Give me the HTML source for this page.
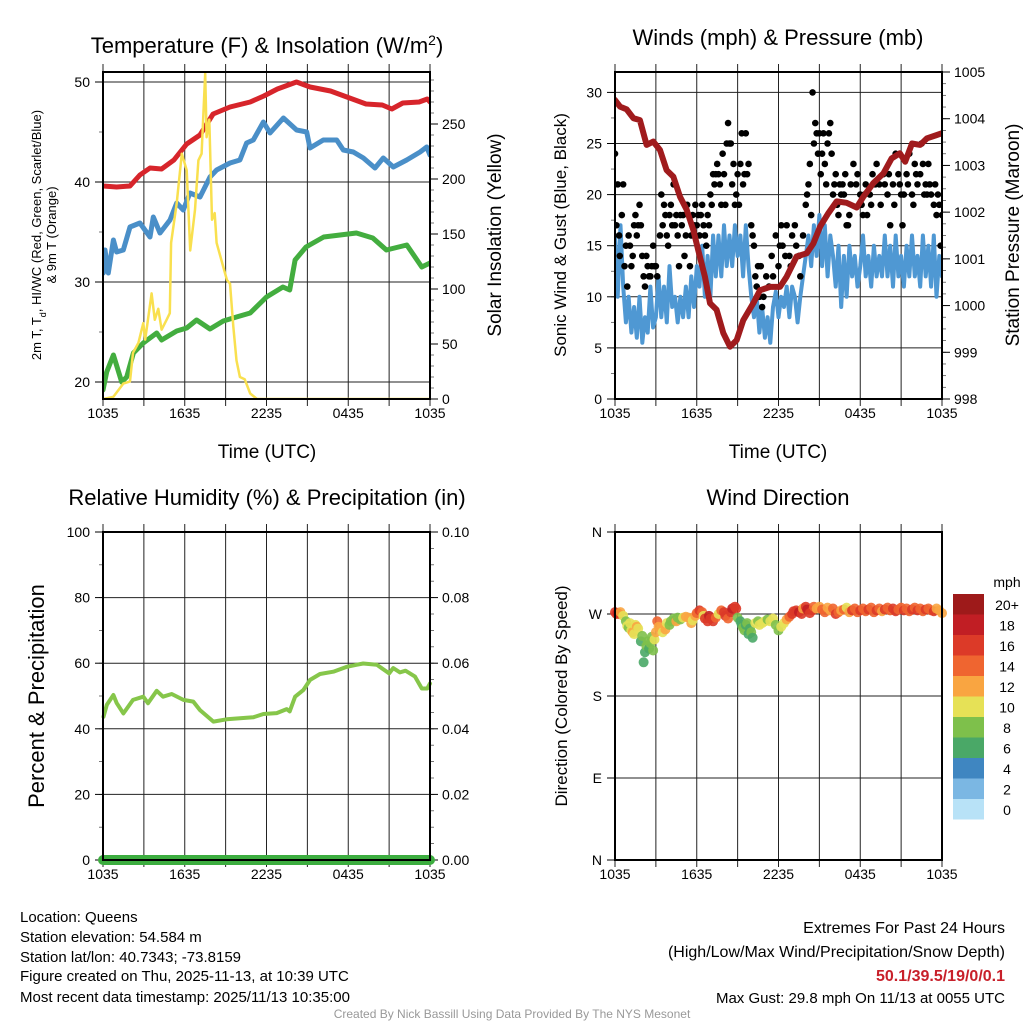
<!DOCTYPE html>
<html><head><meta charset="utf-8">
<style>
html,body{margin:0;padding:0;background:#fff;}
svg{display:block;font-family:"Liberation Sans",Arial,sans-serif;}
</style></head>
<body>
<svg id="fig" width="1024" height="1024" viewBox="0 0 1024 1024" xmlns="http://www.w3.org/2000/svg">
<rect width="1024" height="1024" fill="#fff"/>
<g id="layer"></g>
<text x="267" y="53" font-size="22" text-anchor="middle">Temperature (F) &amp; Insolation (W/m<tspan baseline-shift="super" font-size="14">2</tspan>)</text>
<text x="778" y="45" font-size="22" text-anchor="middle">Winds (mph) &amp; Pressure (mb)</text>
<text x="267" y="505" font-size="22" text-anchor="middle">Relative Humidity (%) &amp; Precipitation (in)</text>
<text x="778" y="505" font-size="22" text-anchor="middle">Wind Direction</text>
<text x="267" y="458" font-size="19" text-anchor="middle">Time (UTC)</text>
<text x="778" y="458" font-size="19" text-anchor="middle">Time (UTC)</text>
<text font-size="13" text-anchor="middle" transform="translate(41,235) rotate(-90)">2m T, T<tspan baseline-shift="sub" font-size="9">d</tspan>, HI/WC (Red, Green, Scarlet/Blue)</text>
<text font-size="13" text-anchor="middle" transform="translate(56,235) rotate(-90)">&amp; 9m T (Orange)</text>
<text font-size="19" text-anchor="middle" transform="translate(501,235) rotate(-90)">Solar Insolation (Yellow)</text>
<text font-size="17" text-anchor="middle" transform="translate(566,235) rotate(-90)">Sonic Wind &amp; Gust (Blue, Black)</text>
<text font-size="19" text-anchor="middle" transform="translate(1019,235) rotate(-90)">Station Pressure (Maroon)</text>
<text font-size="22" text-anchor="middle" transform="translate(44,696) rotate(-90)">Percent &amp; Precipitation</text>
<text font-size="17" text-anchor="middle" transform="translate(567,696) rotate(-90)">Direction (Colored By Speed)</text>
<g font-size="15">
<text x="20" y="922">Location: Queens</text>
<text x="20" y="942">Station elevation: 54.584 m</text>
<text x="20" y="962">Station lat/lon: 40.7343; -73.8159</text>
<text x="20" y="981">Figure created on Thu, 2025-11-13, at 10:39 UTC</text>
<text x="20" y="1002">Most recent data timestamp: 2025/11/13 10:35:00</text>
</g>
<g font-size="16" text-anchor="end">
<text x="1005" y="933">Extremes For Past 24 Hours</text>
<text x="1005" y="957">(High/Low/Max Wind/Precipitation/Snow Depth)</text>
<text x="1005" y="981" font-weight="bold" fill="#c8202a">50.1/39.5/19/0/0.1</text>
<text x="1005" y="1003" font-size="15">Max Gust: 29.8 mph On 11/13 at 0055 UTC</text>
</g>
<text x="512" y="1018" font-size="12" fill="#999" text-anchor="middle">Created By Nick Bassill Using Data Provided By The NYS Mesonet</text>
</svg>
<script>
const timeTickLabels = ["1035","1635","2235","0435","1035"];
const tempTickLabels = ["20","30","40","50"];
const solarTickLabels = ["0","50","100","150","200","250"];
const windTickLabels = ["0","5","10","15","20","25","30"];
const pressTickLabels = ["998","999","1000","1001","1002","1003","1004","1005"];
const rhTickLabels = ["0","20","40","60","80","100"];
const precipTickLabels = ["0.00","0.02","0.04","0.06","0.08","0.10"];
const dirTickLabels = ["N","E","S","W","N"];
const speedBinLabels = ["20+","18","16","14","12","10","8","6","4","2","0"];
const speedBinColors = ["#9e1a1a","#c11e24","#dc3a28","#ef6530","#f9a541","#e6e156","#7ec04b","#4aa867","#3f86c1","#7bb7e3","#b8e2f7"];

const tempTimes = [0,1,1.98,2.71,3.45,4.3,5.2,6.14,7.12,8.08,9.32,10.8,11.8,12.8,14.2,15.2,16.7,18.1,19.3,20.5,21.2,22.0,23.2,23.8,24];
const tempValues = [39.6,39.5,39.6,40.7,41.4,41.3,42.2,43.8,44.7,46.8,47.5,48.0,48.6,49.3,50.0,49.5,49.1,48.4,47.8,47.7,47.3,47.9,48.0,48.3,48.0];

const hiwcTimes = [0.02,0.15,0.39,0.76,1.0,1.49,1.98,2.71,3.45,3.69,4.18,4.92,5.41,5.89,6.38,7.12,7.85,8.34,9.32,10.05,10.54,11.03,11.77,12.26,13.24,14.21,14.95,15.19,16.17,17.15,17.64,18.37,19.11,19.96,20.57,21.31,22.29,23.27,23.76,24];
const hiwcValues = [30.9,33.2,30.9,34.2,33.0,33.2,35.5,35.9,34.5,36.5,34.9,36.2,37.9,37.2,38.9,38.5,40.5,41.2,41.9,42.2,43.9,44.2,46.0,44.9,46.4,45.2,45.0,43.4,44.2,44.2,43.2,43.0,42.4,41.4,42.4,41.5,42.2,43.0,43.5,42.7];

const dewTimes = [0,0.27,0.76,1.37,1.74,2.23,2.96,3.94,4.3,5.41,6.14,6.87,7.85,8.83,9.8,10.8,12.0,13.2,13.7,14.1,14.9,16.2,18.6,19.8,20.8,22.3,23.4,24];
const dewValues = [19.2,21.0,22.7,20.0,20.5,22.9,23.9,24.9,24.2,25.1,25.4,26.2,25.3,26.1,26.5,26.9,28.5,29.5,29.2,32.2,33.5,34.5,34.9,34.4,33.2,33.7,31.5,31.9];

const solarTimes = [0,0.76,1.49,1.98,2.2,2.6,2.96,3.1,3.57,3.8,4.06,4.3,4.67,4.9,5.0,5.41,5.78,6.14,6.4,6.75,7.0,7.24,7.5,7.6,7.8,8.0,8.2,8.34,8.83,9.1,9.32,9.56,9.8,10.05,10.4,10.8,11.3,24];
const solarValues = [0,2,14,16,42,51,69,54,96,72,82,63,72,78,142,178,223,208,135,172,217,223,296,238,254,163,169,142,120,108,105,66,35,20,18,5,0,0];

const windStep = 0.2;
const windValues = [16,10,17,11,7.5,10,6.5,9,6,10,5.5,8,6.5,11,7,8,12,8,11,7.5,13,9,10,7.5,10,8,11,8,12,9,13,11,15,10,14,10,16,12,16,12,17,13,16,13,17,14,16,12,17,13,10,8,10,6.5,9,6,8,5.5,9,10.5,8,10,9,11,8,11,10,7.5,10,12,14,16,13,17,14,18,13,17,12,16,14,11,15,9,14,10,15,12,14,11,13,16,12,14,11,15,12,14,12,16,12,15,11,16,12,14,11,15,12,16,12,14,11,16,12,15,11,16,10,14,12];

const gustTimes = [0,0.1,0.2,0.3,0.35,0.5,0.6,0.7,0.8,0.9,1.0,1.1,1.2,1.3,1.4,1.5,1.6,1.7,1.8,1.9,2.0,2.1,2.2,2.3,2.4,2.5,2.6,2.7,2.8,2.9,3.0,3.1,3.3,3.4,3.5,3.6,3.7,3.8,3.9,4.0,4.1,4.2,4.3,4.4,4.5,4.6,4.7,4.8,4.9,5.0,5.1,5.2,5.3,5.5,5.6,5.7,5.8,5.9,6.0,6.1,6.2,6.3,6.4,6.5,6.6,6.7,6.8,6.9,7.0,7.1,7.2,7.3,7.4,7.5,7.6,7.7,7.8,7.9,8.0,8.1,8.2,8.3,8.4,8.5,8.6,8.7,8.8,8.9,9.0,9.1,9.2,9.3,9.4,9.5,9.6,9.7,9.8,10.0,10.1,10.2,10.3,10.4,10.5,10.6,10.7,10.8,10.9,11.1,11.3,11.5,11.6,11.8,12.0,12.1,12.2,12.3,12.5,12.6,12.8,12.9,13.0,13.2,13.3,13.5,13.6,13.8,14.0,14.1,14.2,14.3,14.4,14.5,14.6,14.7,14.8,14.9,15.0,15.1,15.2,15.3,15.4,15.5,15.6,15.7,15.8,15.9,16.0,16.1,16.2,16.3,16.4,16.5,16.6,16.7,16.8,16.9,17.0,17.1,17.2,17.3,17.5,17.7,17.8,18.0,18.1,18.2,18.3,18.4,18.5,18.7,18.8,18.9,19.1,19.2,19.4,19.5,19.7,19.8,20.0,20.1,20.2,20.4,20.5,20.6,20.8,20.9,21.0,21.1,21.2,21.4,21.5,21.6,21.8,21.9,22.0,22.1,22.2,22.4,22.5,22.6,22.7,22.8,22.9,23.0,23.1,23.2,23.4,23.5,23.6,23.7,23.8,23.9,24.0];
const gustValues = [24,17,21,16,14,18,21,13,15,11,16,15,13,14,17,18,16,17,19,17,14,12,11,14,13,12,12,13,15,13,13,12,16,20,17,19,18,16,15,18,19,17,21,17,18,16,13,18,17,18,14,16,19,13,16,18,17,19,17,18,16,18,19,17,16,15,18,17,20,19,22,21,22,23,22,21,19,24,22,19,25,27,25,25,21,23,19,20,22,19,23,26,21,22,26,22,23,17,16,15,12,11,13,10,13,9,10,12,11,14,12,16,13,15,17,15,14,17,14,13,16,17,15,14,12,16,19,20,21,23,18,30,25,27,26,24,26,22,24,26,23,21,25,26,27,24,20,21,22,19,18,21,20,21,20,22,17,17,18,21,23,21,22,20,19,18,20,21,18,20,19,22,21,23,21,19,22,21,20,22,17,21,19,24,22,21,20,17,20,22,21,24,20,19,23,22,21,22,25,23,20,21,20,23,21,20,19,21,18,20,19,15,18];

const pressTimes = [0,0.37,0.86,1.35,1.83,2.32,2.81,3.3,3.79,4.28,4.77,5.26,5.75,6.11,6.6,6.97,7.46,7.95,8.44,8.93,9.42,10.15,10.64,11.38,12.11,12.6,13.33,14.07,14.56,15.05,15.66,16.27,17.0,17.74,18.23,18.96,19.7,20.3,20.9,21.3,21.8,22.4,22.9,23.6,24];
const pressValues = [1004.4,1004.26,1004.2,1004.01,1003.97,1003.44,1003.51,1003.33,1002.9,1002.76,1002.33,1002.05,1001.62,1001.19,1000.62,1000.05,999.91,999.41,999.12,999.26,999.69,1000.05,1000.33,1000.4,1000.4,1000.62,1001.05,1001.12,1001.33,1001.69,1001.98,1002.23,1002.2,1002.1,1002.33,1002.62,1002.83,1003.15,1003.26,1003.08,1003.47,1003.44,1003.58,1003.65,1003.69];

const rhTimes = [0.04,0.28,0.76,1.0,1.5,2.2,2.96,3.3,3.94,4.4,5.04,5.9,6.63,7.12,8.1,9.08,10.05,11.03,11.77,12.75,13.48,13.7,14.1,14.7,15.2,15.93,16.9,17.9,18.6,19.1,20.1,21.0,21.3,21.8,22.2,22.9,23.4,23.8,24];
const rhValues = [43.7,47.3,50.3,47.9,44.7,48.8,49.8,47.8,51.6,49.8,50.6,48.8,48.3,45.7,42.2,42.9,43.2,43.5,44.5,44.8,46.0,45.3,49.8,51.8,54.9,56.7,57.4,58.9,59.5,59.9,59.5,56.9,58.5,57.2,57.7,55.9,52.3,52.3,53.8];
const precipTimes = [0,24];
const precipValues = [0,0];

const dirTimes = [0,0.1,0.2,0.3,0.4,0.6,0.8,0.9,1.0,1.1,1.2,1.3,1.4,1.5,1.6,1.7,1.9,2.0,2.1,2.2,2.3,2.4,2.5,2.6,2.7,2.8,2.9,3.0,3.1,3.2,3.4,3.5,3.7,3.8,4.0,4.1,4.3,4.4,4.5,4.6,4.8,5.0,5.2,5.4,5.6,5.7,5.9,6.0,6.2,6.4,6.5,6.6,6.8,6.9,7.0,7.2,7.4,7.6,7.8,8.0,8.1,8.3,8.5,8.6,8.8,8.9,9.0,9.2,9.3,9.4,9.5,9.6,9.7,9.8,9.9,10.0,10.1,10.3,10.5,10.6,10.8,11.0,11.2,11.4,11.6,11.8,12.0,12.2,12.4,12.6,12.8,13.0,13.1,13.3,13.5,13.7,13.8,14.0,14.1,14.3,14.5,14.6,14.8,15.0,15.2,15.4,15.6,15.8,16.0,16.2,16.4,16.6,16.8,17.0,17.2,17.4,17.6,17.8,18.0,18.2,18.4,18.6,18.8,19.0,19.2,19.4,19.6,19.8,20.0,20.2,20.4,20.6,20.8,21.0,21.2,21.4,21.6,21.8,22.0,22.2,22.4,22.6,22.8,23.0,23.2,23.4,23.6,23.8,24.0];
const dirValues = [272,270,271,270,272,268,262,257,255,260,252,250,248,258,256,254,240,246,217,228,235,240,232,238,245,230,242,250,262,256,255,250,253,260,258,262,265,263,262,266,264,266,267,266,260,263,268,271,274,272,268,265,262,268,265,262,266,270,274,272,268,265,272,276,278,276,266,262,258,255,252,258,260,248,254,250,244,260,262,258,260,262,264,262,265,258,252,256,260,264,267,270,273,274,272,270,276,278,275,271,274,278,276,278,275,272,277,274,276,270,272,274,275,277,272,274,276,272,274,276,273,275,277,272,274,276,273,275,277,274,276,273,275,277,274,276,273,275,277,274,276,273,275,276,274,273,276,274,271];
const dirSpeeds = [16,17,18,16,12,10,8,10,9,11,10,12,10,10,12,11,7,8,6,7,8,8,6,8,9,8,10,13,14,12,12,11,12,10,9,8,8,9,12,8,9,10,13,13,12,10,12,14,17,15,11,16,17,18,17,16,14,10,15,17,16,15,17,18,17,16,8,6,7,8,8,7,8,6,7,8,6,10,9,10,10,10,9,10,10,9,9,10,11,13,14,16,17,16,18,17,12,17,18,16,16,15,12,13,14,15,12,13,14,16,14,12,15,11,13,16,15,14,17,15,14,16,14,15,16,15,13,16,14,15,17,16,15,14,16,15,14,16,15,17,15,14,16,14,15,16,12,13,12];

const NS = "http://www.w3.org/2000/svg";
const layer = document.getElementById('layer');
function mk(tag, attrs, parent){
  const e = document.createElementNS(NS, tag);
  for (const k in attrs) e.setAttribute(k, attrs[k]);
  (parent||layer).appendChild(e);
  return e;
}
function scale(d0,d1,r0,r1){ return v => r0 + (v-d0)*(r1-r0)/(d1-d0); }

function panel(id){
  const g = mk('g', {});
  
  
  return g;
}
function drawFrame(g, L, R, T, B){
  const f = mk('rect', {x:L, y:T, width:R-L, height:B-T, fill:'none', stroke:'#000', 'stroke-width':2}, g);
  
  
}
function timeAxis(g, L, R, T, B, xs, labels, name){
  for (let h=0; h<=24; h+=3){
    const x = xs(h);
    const ln = mk('line', {x1:x, x2:x, y1:T-8, y2:B+7, stroke:'#222', 'stroke-width':1}, g);
    
    
  }
  labels.forEach((lab,i)=>{
    const t = mk('text', {x:xs(i*6), y:B+19, 'font-size':14, 'text-anchor':'middle'}, g);
    t.textContent = lab;
    
    
  });
}
function yAxis(g, L, R, ys, vals, labels, side, grid, minorStep, lo, hi, name){
  const xe = side==='left' ? L : R;
  const dir = side==='left' ? -1 : 1;
  if (minorStep){
    for (let v=lo; v<=hi+1e-9; v+=minorStep){
      mk('line', {x1:xe, x2:xe+dir*4, y1:ys(v), y2:ys(v), stroke:'#555', 'stroke-width':0.8}, g);
    }
  }
  vals.forEach((v,i)=>{
    const y = ys(v);
    if (grid){
      const gl = mk('line', {x1:L, x2:R, y1:y, y2:y, stroke:'#222', 'stroke-width':1}, g);
      
      
    }
    mk('line', {x1:xe, x2:xe+dir*8, y1:y, y2:y, stroke:'#000', 'stroke-width':1}, g);
    const t = mk('text', {x:xe+dir*(side==='left'?13:12), y:y+5, 'font-size':14, 'text-anchor': side==='left'?'end':'start'}, g);
    t.textContent = labels[i];
    
    
  });
}
function line(g, times, vals, xs, ys, color, w, name){
  let d = '';
  times.forEach((t,i)=>{ d += (i?'L':'M') + xs(t).toFixed(1) + ',' + ys(vals[i]).toFixed(1); });
  const p = mk('path', {d:d, fill:'none', stroke:color, 'stroke-width':w, 'stroke-linejoin':'round', 'stroke-linecap':'round'}, g);
  
  
  return p;
}

(function(){
  const L=103,R=430,T=72,B=399;
  const g = panel('temperature');
  const xs = scale(0,24,L,R);
  const ys = scale(20,50,382,82);
  const ys2 = scale(0,250,399,124);
  timeAxis(g,L,R,T,B,xs,timeTickLabels,'temp');
  yAxis(g,L,R,ys,tempTickLabels.map(Number),tempTickLabels,'left',true,5,20,50,'temp');
  yAxis(g,L,R,ys2,solarTickLabels.map(Number),solarTickLabels,'right',false,10,0,290,'solar');
  const clip = mk('clipPath',{id:'c1'},g); mk('rect',{x:L,y:T,width:R-L,height:B-T},clip);
  const dg = mk('g',{'clip-path':'url(#c1)'},g);
  line(dg, tempTimes, tempValues, xs, ys, '#d7252b', 5, 'temperature-line');
  line(dg, hiwcTimes, hiwcValues, xs, ys, '#4a8fc8', 5, 'heat-index-windchill-line');
  line(dg, dewTimes, dewValues, xs, ys, '#43ad3f', 5, 'dewpoint-line');
  line(dg, solarTimes, solarValues, xs, ys2, '#f9e04f', 2.5, 'solar-insolation-line');
  drawFrame(g,L,R,T,B);
})();

(function(){
  const L=615,R=942,T=72,B=399;
  const g = panel('winds');
  const xs = scale(0,24,L,R);
  const ys = scale(0,30,399,92.4);
  const ys2 = scale(998,1005,399,72);
  timeAxis(g,L,R,T,B,xs,timeTickLabels,'wind');
  yAxis(g,L,R,ys,windTickLabels.map(Number),windTickLabels,'left',true,2.5,0,32,'wind');
  yAxis(g,L,R,ys2,pressTickLabels.map(Number),pressTickLabels,'right',false,0.25,998,1005,'pressure');
  const clip = mk('clipPath',{id:'c2'},g); mk('rect',{x:L,y:T,width:R-L,height:B-T},clip);
  const dg = mk('g',{'clip-path':'url(#c2)'},g);
  const wt = windValues.map((v,i)=>i*windStep);
  line(dg, wt, windValues, xs, ys, '#4f98d3', 4, 'sonic-wind-line');
  gustValues.forEach((v,i)=>{
    const c = mk('circle',{cx:xs(gustTimes[i]), cy:ys(v), r:3.3, fill:'#000'}, dg);
    
    
  });
  line(dg, pressTimes, pressValues, xs, ys2, '#a01b1d', 6, 'pressure-line');
  drawFrame(g,L,R,T,B);
})();

(function(){
  const L=103,R=430,T=532,B=860;
  const g = panel('humidity');
  const xs = scale(0,24,L,R);
  const ys = scale(0,100,860,532);
  const ys2 = scale(0,0.1,860,532);
  timeAxis(g,L,R,T,B,xs,timeTickLabels,'rh');
  yAxis(g,L,R,ys,rhTickLabels.map(Number),rhTickLabels,'left',true,10,0,100,'rh');
  yAxis(g,L,R,ys2,precipTickLabels.map(Number),precipTickLabels,'right',false,0.005,0,0.1,'precip');
  line(g, rhTimes, rhValues, xs, ys, '#86c64a', 4, 'relative-humidity-line');
  line(g, precipTimes, precipValues, xs, ys2, '#3cad3f', 10, 'precipitation-line');
  drawFrame(g,L,R,T,B);
})();

(function(){
  const L=615,R=942,T=532,B=860;
  const g = panel('wind-direction');
  const xs = scale(0,24,L,R);
  const ys = scale(0,360,860,532);
  timeAxis(g,L,R,T,B,xs,timeTickLabels,'dir');
  yAxis(g,L,R,ys,[0,90,180,270,360],dirTickLabels,'left',true,0,0,0,'dir');
  dirValues.forEach((v,i)=>{
    const bin = Math.min(10, Math.floor(dirSpeeds[i]/2));
    const c = mk('circle',{cx:xs(dirTimes[i]), cy:ys(v), r:5, fill:speedBinColors[10-bin], 'fill-opacity':0.9}, g);
    
    
  });
  drawFrame(g,L,R,T,B);
  const cb = mk('g',{},layer);
  
  
  const t0 = mk('text',{x:1007,y:587,'font-size':14,'text-anchor':'middle'},cb); t0.textContent='mph';
  speedBinLabels.forEach((lab,i)=>{
    const y = 594 + i*20.5;
    const r = mk('rect',{x:953,y:y,width:31,height:20.5,fill:speedBinColors[i]},cb);
    
    
    const t = mk('text',{x:1007,y:y+16,'font-size':14,'text-anchor':'middle'},cb);
    t.textContent = lab;
    
    
  });
})();
</script>
</body></html>
